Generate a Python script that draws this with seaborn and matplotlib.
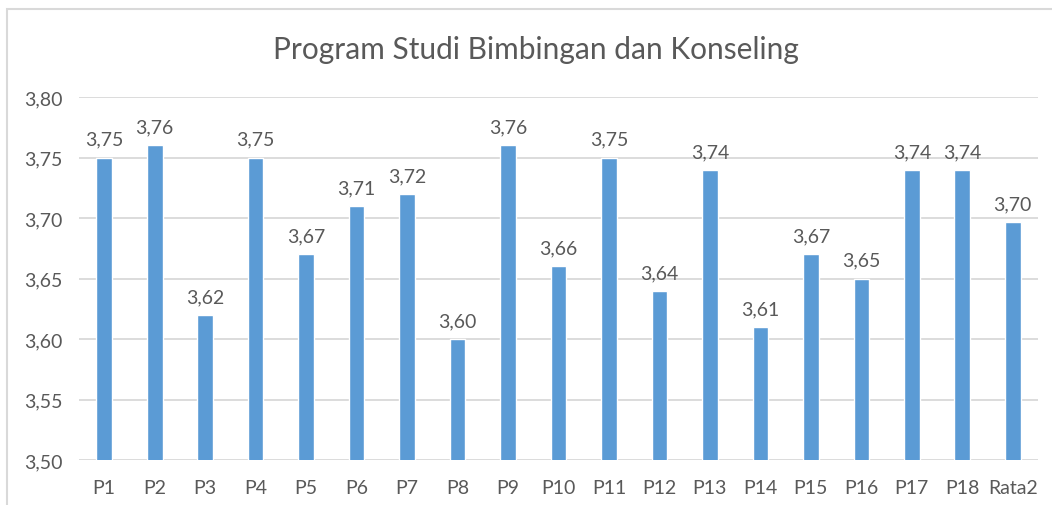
import seaborn as sns
import matplotlib.pyplot as plt
import pandas as pd
from matplotlib.patches import Rectangle
from matplotlib.ticker import FuncFormatter

categories = ['P1', 'P2', 'P3', 'P4', 'P5', 'P6', 'P7', 'P8', 'P9', 'P10',
              'P11', 'P12', 'P13', 'P14', 'P15', 'P16', 'P17', 'P18', 'Rata2']
values = [3.75, 3.76, 3.62, 3.75, 3.67, 3.71, 3.72, 3.60, 3.76, 3.66,
          3.75, 3.64, 3.74, 3.61, 3.67, 3.65, 3.74, 3.74, 3.697]
y_ticks = [3.50, 3.55, 3.60, 3.65, 3.70, 3.75, 3.80]

sns.set_style('white')
plt.rcParams['font.family'] = ['Lato', 'DejaVu Sans']
grey = '#595959'

df = pd.DataFrame({'kode': categories, 'nilai': values})

fig = plt.figure(figsize=(10.52, 5.06), dpi=100)
ax = fig.add_axes([79 / 1052, 1 - 461 / 506, (1038 - 79) / 1052, (461 - 98) / 506])

sns.barplot(data=df, x='kode', y='nilai', color='#5B9BD5', saturation=1,
            width=0.31, ax=ax)

ax.set_ylim(3.5, 3.8)
ax.set_yticks(y_ticks)
ax.yaxis.set_major_formatter(FuncFormatter(lambda v, p: f'{v:.2f}'.replace('.', ',')))
ax.set_xlabel('')
ax.set_ylabel('')
ax.grid(axis='y', color='#D9D9D9', lw=1.3)
ax.set_axisbelow(True)
for s in ax.spines.values():
    s.set_visible(False)
ax.tick_params(length=0, labelsize=14, colors=grey, pad=12)
ax.tick_params(axis='x', pad=14)

ax.bar_label(ax.containers[0], labels=[f'{v:.2f}'.replace('.', ',') for v in values],
             padding=7, fontsize=14, color=grey)

fig.text(536 / 1052, 1 - 50 / 506, 'Program Studi Bimbingan dan Konseling',
         ha='center', va='center', fontsize=21.5, color=grey)

# bingkai chart
fig.patches.append(Rectangle((7 / 1052, -0.1), 1.2, 1.1 - 10 / 506,
                             transform=fig.transFigure, fill=False,
                             ec='#D9D9D9', lw=1.5))

fig.savefig('out.png', dpi=100)
